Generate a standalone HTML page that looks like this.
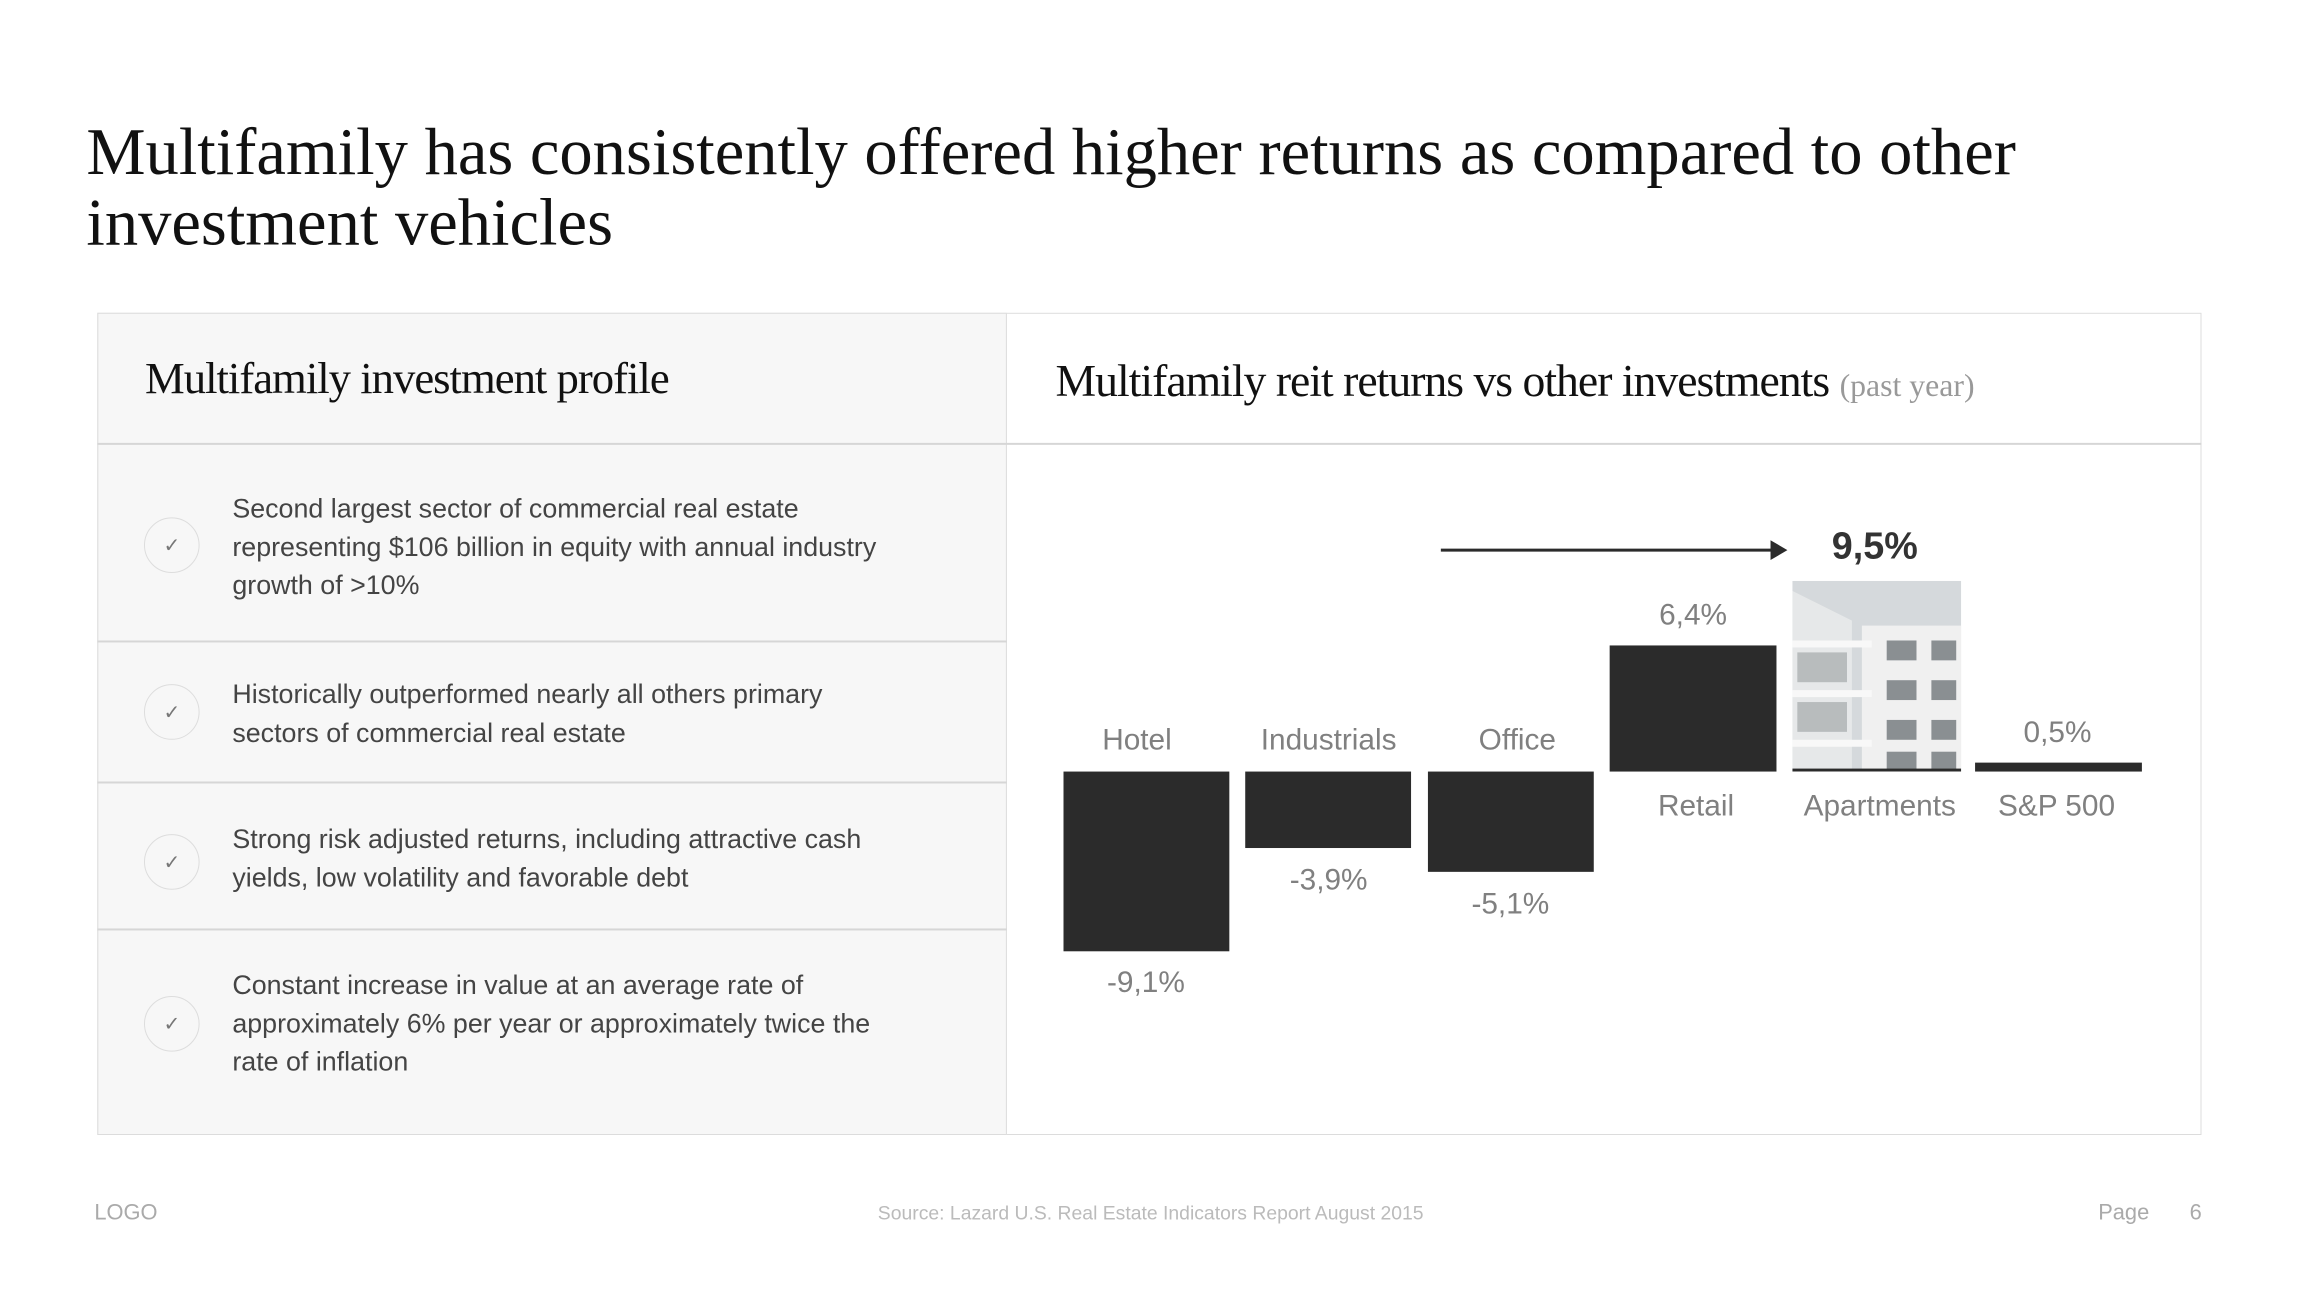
<!DOCTYPE html>
<html><head><meta charset="utf-8"><style>
*{margin:0;padding:0;box-sizing:border-box}
body{width:2304px;height:1296px;background:#fff;position:relative;overflow:hidden;font-family:"Liberation Sans",sans-serif}
#w{position:absolute;left:0;top:0;width:2304px;height:1296px;transform:scale(0.993);transform-origin:0 0}
.a{position:absolute;white-space:nowrap}
.serif{font-family:"Liberation Serif",serif}
.title{left:87px;top:118px;font-size:67px;line-height:71px;color:#111}
.box{left:98px;top:315px;width:2119px;height:828px;border:1.5px solid #dcdcdc;background:#fff}
.lp{left:98px;top:315px;width:916px;height:828px;background:#f7f7f7;border:1.5px solid #dcdcdc}
.hl{height:1.5px;background:#d6d6d6}
.bt{font-size:27px;line-height:38.5px;color:#444;left:234px}
.c{width:56px;height:56px;border:1.5px solid #ddd;border-radius:50%;left:145px;display:flex;align-items:center;justify-content:center;color:#777;font-size:20px}
.bar{position:absolute;background:#2b2b2b}
.lb{font-size:30px;color:#808080;text-align:center;width:220px;transform:translate(-50%,-50%)}
</style></head><body><div id="w">
<div class="a serif title">Multifamily has consistently offered higher returns as compared to other<br>investment vehicles</div>
<div class="a box"></div>
<div class="a lp"></div>
<div class="a hl" style="left:98px;top:446px;width:2119px"></div>
<div class="a hl" style="left:98px;top:645px;width:916px"></div>
<div class="a hl" style="left:98px;top:787px;width:916px"></div>
<div class="a hl" style="left:98px;top:935px;width:916px"></div>
<div class="a serif" style="left:146px;top:355px;font-size:45px;color:#111;letter-spacing:-1px">Multifamily investment profile</div>
<div class="a serif" style="left:1063px;top:357px;font-size:46px;color:#111;letter-spacing:-1px">Multifamily reit returns vs other investments <span style="font-size:32px;color:#999;letter-spacing:0">(past year)</span></div>

<div class="a c" style="top:521px">✓</div>
<div class="a bt" style="top:493px">Second largest sector of commercial real estate<br>representing $106 billion in equity with annual industry<br>growth of &gt;10%</div>
<div class="a c" style="top:689px">✓</div>
<div class="a bt" style="top:680px">Historically outperformed nearly all others primary<br>sectors of commercial real estate</div>
<div class="a c" style="top:840px">✓</div>
<div class="a bt" style="top:826px">Strong risk adjusted returns, including attractive cash<br>yields, low volatility and favorable debt</div>
<div class="a c" style="top:1003px">✓</div>
<div class="a bt" style="top:973px">Constant increase in value at an average rate of<br>approximately 6% per year or approximately twice the<br>rate of inflation</div>

<div class="bar" style="left:1071px;top:777px;width:167px;height:181px"></div>
<div class="bar" style="left:1254px;top:777px;width:167px;height:77px"></div>
<div class="bar" style="left:1438px;top:777px;width:167px;height:101px"></div>
<div class="bar" style="left:1621px;top:650px;width:168px;height:127px"></div>
<div class="bar" style="left:1989px;top:768px;width:168px;height:9px"></div>
<svg class="a" style="left:1805px;top:585px" width="170" height="192" viewBox="0 0 170 192">
<rect width="170" height="192" fill="#d5d9dc"/>
<rect x="70" y="45" width="100" height="147" fill="#f0f0f0"/>
<polygon points="0,10 60,40 60,192 0,192" fill="#e6e8e9"/>
<g fill="#f8f8f8"><rect x="0" y="60" width="80" height="7"/><rect x="0" y="110" width="80" height="7"/><rect x="0" y="160" width="80" height="7"/></g>
<g fill="#8a8f92">
<rect x="95" y="60" width="30" height="20"/><rect x="140" y="60" width="25" height="20"/>
<rect x="95" y="100" width="30" height="20"/><rect x="140" y="100" width="25" height="20"/>
<rect x="95" y="140" width="30" height="20"/><rect x="140" y="140" width="25" height="20"/>
<rect x="95" y="172" width="30" height="18"/><rect x="140" y="172" width="25" height="18"/>
<rect x="5" y="72" width="50" height="30" opacity=".5"/><rect x="5" y="122" width="50" height="30" opacity=".5"/>
</g>
<rect x="0" y="189" width="170" height="3" fill="#2b2b2b"/>
</svg>
<svg class="a" style="left:1440px;top:540px" width="370" height="30"><line x1="11" y1="14" x2="345" y2="14" stroke="#2b2b2b" stroke-width="3"/><polygon points="343,4 360,14 343,24" fill="#2b2b2b"/></svg>

<div class="a lb" style="left:1145px;top:746px">Hotel</div>
<div class="a lb" style="left:1338px;top:746px">Industrials</div>
<div class="a lb" style="left:1528px;top:746px">Office</div>
<div class="a lb" style="left:1708px;top:812px">Retail</div>
<div class="a lb" style="left:1893px;top:812px">Apartments</div>
<div class="a lb" style="left:2071px;top:812px">S&amp;P 500</div>
<div class="a lb" style="left:1154px;top:990px">-9,1%</div>
<div class="a lb" style="left:1338px;top:887px">-3,9%</div>
<div class="a lb" style="left:1521px;top:911px">-5,1%</div>
<div class="a lb" style="left:1705px;top:620px">6,4%</div>
<div class="a lb" style="left:2072px;top:738px">0,5%</div>
<div class="a lb" style="left:1888px;top:551px;font-size:38px;font-weight:bold;color:#333">9,5%</div>

<div class="a" style="left:95px;top:1208px;font-size:22px;color:#aaa">LOGO</div>
<div class="a" style="left:884px;top:1211px;font-size:19.5px;color:#bbb">Source: Lazard U.S. Real Estate Indicators Report August 2015</div>
<div class="a" style="left:2113px;top:1208px;font-size:22px;color:#aaa">Page</div>
<div class="a" style="left:2205px;top:1208px;font-size:22px;color:#aaa">6</div>
</div></body></html>
